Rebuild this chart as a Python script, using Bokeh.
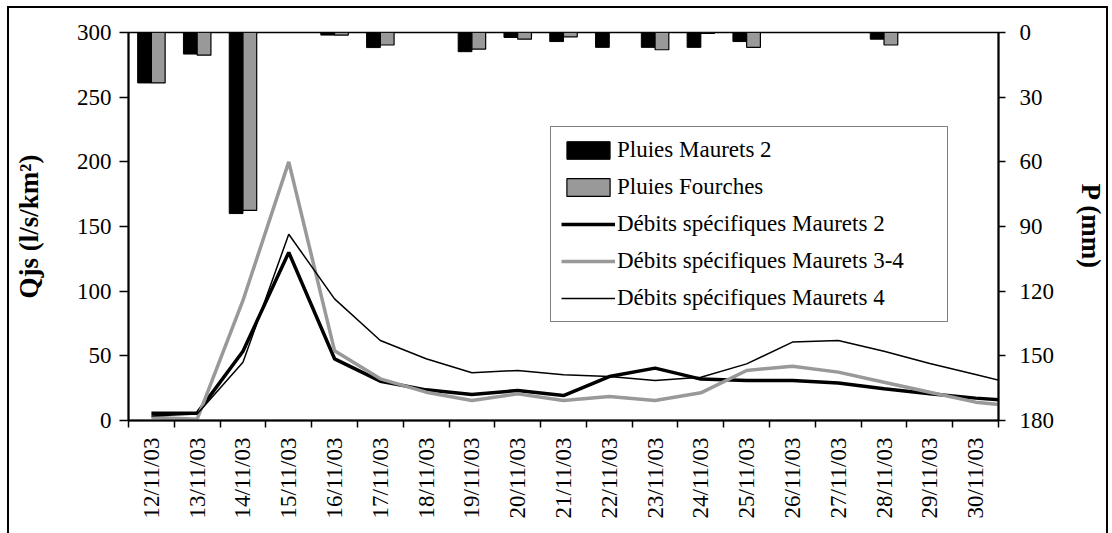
import math
from bokeh.plotting import figure
from bokeh.models import Range1d, LinearAxis, FixedTicker, Legend, LegendItem
from bokeh.embed import file_html
from bokeh.resources import INLINE

# ---- data -------------------------------------------------------------
dates = ["12/11/03", "13/11/03", "14/11/03", "15/11/03", "16/11/03", "17/11/03",
         "18/11/03", "19/11/03", "20/11/03", "21/11/03", "22/11/03", "23/11/03",
         "24/11/03", "25/11/03", "26/11/03", "27/11/03", "28/11/03", "29/11/03",
         "30/11/03"]
# line series continue one day past the last label (01/12/03), clipped at the axis
line_days = dates + ["01/12/03"]

# rainfall (mm), right axis (inverted)
rain_maurets2 = [23.4, 10.0, 84.0, 0, 1.2, 7.0, 0, 8.9, 2.3, 4.2, 6.9, 6.9, 6.9, 4.2, 0, 0, 3.1, 0, 0]
rain_fourches = [23.4, 10.5, 82.5, 0, 1.2, 5.8, 0, 7.7, 3.1, 2.0, 0, 8.0, 0.4, 6.9, 0, 0, 5.8, 0, 0]

# specific discharge (l/s/km2), left axis
q_maurets2 = [5.7, 5.7, 53.6, 130, 47.7, 30.4, 23.7, 20.1, 23.2, 19.3, 34, 40.5, 32, 31, 31, 29, 24.5, 20.6, 17.3, 14.7]
q_maurets34 = [2.6, 1.0, 92.8, 200, 54, 32.2, 21.9, 15.5, 20.6, 15.5, 18.6, 15.5, 21.4, 38.7, 42, 37.4, 29.6, 21.9, 14.2, 10.6]
q_maurets4 = [3.5, 5.0, 45, 144, 94, 61.9, 47.7, 36.9, 38.7, 35.3, 34, 31, 33.5, 43.8, 60.6, 61.9, 53.5, 44, 35.5, 27]

left_ticks = [0, 50, 100, 150, 200, 250, 300]
right_ticks = [0, 30, 60, 90, 120, 150, 180]

# ---- figure -----------------------------------------------------------
FONT = "Liberation Serif"
n = len(dates)
centers = [i + 0.5 for i in range(n)]
line_x = [i + 0.5 for i in range(len(line_days))]

p = figure(width=1112, height=533, x_range=Range1d(0, n), y_range=Range1d(0, 300),
           output_backend="svg", toolbar_location=None,
           min_border_left=128, min_border_right=114, min_border_top=32, min_border_bottom=113)
p.extra_y_ranges = {"p": Range1d(start=180, end=0)}
p.xgrid.visible = False
p.ygrid.visible = False
p.background_fill_color = "white"
p.border_fill_color = None
p.outline_line_color = "black"
p.outline_line_width = 1.5
# outer chart-area border (top, left, right)
p.styles = {"background": (
    "linear-gradient(#000,#000) 7px 6px / 2px 600px no-repeat, "
    "linear-gradient(#000,#000) 7px 6px / 1101px 2px no-repeat, "
    "linear-gradient(#000,#000) 1106px 6px / 2px 600px no-repeat")}

# bars
bw = 0.3
b1 = p.vbar(x=[c - 0.15 for c in centers], width=bw, top=0, bottom=rain_maurets2,
            y_range_name="p", fill_color="black", line_color="black", line_width=1)
b2 = p.vbar(x=[c + 0.15 for c in centers], width=bw, top=0, bottom=rain_fourches,
            y_range_name="p", fill_color="#999999", line_color="black", line_width=1.2)

# lines
l1 = p.line(line_x, q_maurets2, line_color="black", line_width=3.5)
l2 = p.line(line_x, q_maurets34, line_color="#999999", line_width=3.5)
l3 = p.line(line_x, q_maurets4, line_color="black", line_width=1.5)

# x axis
xa = p.xaxis[0]
xa.ticker = FixedTicker(ticks=centers, minor_ticks=list(range(n + 1)))
xa.major_label_overrides = {c: d for c, d in zip(centers, dates)}
xa.major_tick_out = 0
xa.major_tick_in = 0
xa.minor_tick_out = 7
xa.minor_tick_in = 0
xa.minor_tick_line_color = "black"
xa.minor_tick_line_width = 1.5
xa.major_label_orientation = math.pi / 2
xa.major_label_standoff = 10
xa.axis_line_width = 2
xa.major_label_text_font = FONT
xa.major_label_text_font_size = "23px"
xa.major_label_text_color = "black"

# left axis
ya = p.yaxis[0]
ya.ticker = FixedTicker(ticks=left_ticks)
ya.axis_label = "Qjs (l/s/km²)"
ya.axis_label_text_font = FONT
ya.axis_label_text_font_size = "27px"
ya.axis_label_text_font_style = "bold"
ya.axis_label_text_color = "black"
ya.axis_label_standoff = 30
ya.major_label_text_font = FONT
ya.major_label_text_font_size = "23px"
ya.major_label_text_color = "black"
ya.major_tick_out = 9
ya.major_tick_in = 0
ya.minor_tick_out = 0
ya.minor_tick_in = 0
ya.major_tick_line_width = 1.5
ya.major_label_standoff = 8
ya.axis_line_width = 2

# right axis
ra = LinearAxis(y_range_name="p", ticker=FixedTicker(ticks=right_ticks), axis_label="P (mm)")
ra.axis_label_text_font = FONT
ra.axis_label_text_font_size = "27px"
ra.axis_label_text_font_style = "bold"
ra.axis_label_text_color = "black"
ra.axis_label_standoff = 19
ra.major_label_text_font = FONT
ra.major_label_text_font_size = "23px"
ra.major_label_text_color = "black"
ra.major_tick_out = 7
ra.major_tick_in = 0
ra.minor_tick_out = 0
ra.minor_tick_in = 0
ra.major_tick_line_width = 1.5
ra.major_label_standoff = 14
ra.axis_line_width = 2
p.add_layout(ra, "right")

# legend
legend = Legend(items=[
    LegendItem(label="Pluies Maurets 2", renderers=[b1]),
    LegendItem(label="Pluies Fourches", renderers=[b2]),
    LegendItem(label="Débits spécifiques Maurets 2", renderers=[l1]),
    LegendItem(label="Débits spécifiques Maurets 3-4", renderers=[l2]),
    LegendItem(label="Débits spécifiques Maurets 4", renderers=[l3]),
], location=(422, 98))
legend.label_text_font = FONT
legend.label_text_font_size = "23px"
legend.label_text_color = "black"
legend.glyph_width = 54
legend.glyph_height = 22
legend.label_height = 26
legend.label_width = 320
legend.label_standoff = 2
legend.spacing = 11
legend.padding = 10
legend.margin = 0
legend.border_line_color = "black"
legend.border_line_width = 1
legend.background_fill_color = "white"
legend.background_fill_alpha = 1
p.add_layout(legend, "center")

open("out.html", "w").write(file_html(p, INLINE))
